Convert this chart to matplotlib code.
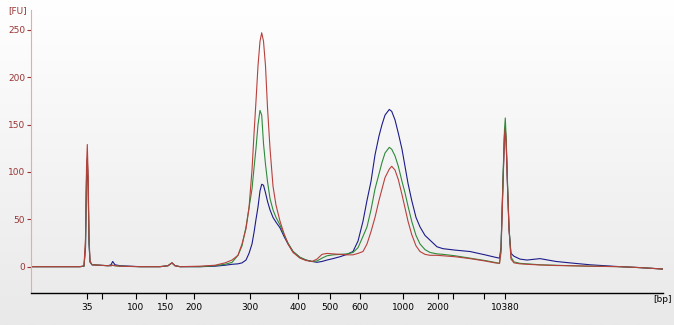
import numpy as np
import matplotlib.pyplot as plt
from matplotlib.colors import LinearSegmentedColormap

# electropherogram traces, x = migration position (plot units), y = fluorescence [FU]
pos = [30, 60, 80, 84, 85.5, 86.5, 87.3, 88.2, 89, 90, 92, 100, 108, 111, 112.7, 115, 120,
       140, 160, 168, 172, 175, 180, 200, 215, 225, 232, 238, 242, 246, 249, 252, 254, 256,
       258, 260, 261.7, 263.5, 265.5, 267.5, 270, 273, 276, 280, 284, 288, 293, 300, 306,
       312, 317, 322, 327, 333, 340, 347, 353, 358, 363, 367, 371, 375, 379, 382, 385,
       389.3, 391.7, 395, 398.3, 402, 405, 408, 411.7, 416, 420, 425, 430, 437, 443, 455,
       470, 485, 495, 499.5, 501, 503, 504.5, 505.3, 506.2, 507.5, 509, 511, 514, 520, 527,
       540, 556, 570, 590, 620, 640, 663]

blue = [0, 0, 0, 0.5, 20, 90, 113, 80, 25, 5, 2, 1.5, 1, 2, 5.5, 2, 1,
        0, 0, 1, 4, 1, 0, 0, 0.5, 1.5, 2.5, 3, 4, 7, 14, 24, 36, 50,
        63, 80, 87, 86, 78, 69, 60, 52, 47, 41, 32, 24, 16, 9.5, 7,
        5.5, 4.6, 5.5, 7, 8.5, 10.5, 13, 16, 27, 48, 70, 90, 118, 138, 150, 160,
        166, 164, 155, 141, 124, 106, 88, 70, 52, 42, 33, 28, 21, 19, 17.5,
        16, 12.5, 10, 9, 20, 90, 140, 145, 130, 85, 40, 14, 11, 8, 7,
        8.5, 5.5, 4, 2, 0, -1, -2.5]

green = [0, 0, 0, 0.5, 22, 95, 115, 85, 28, 5, 2, 1.5, 1, 1, 1.5, 1, 0.5,
         0, 0, 1, 4, 1, 0, 0, 1, 2.5, 4.5, 12, 22, 42, 62, 82, 104, 125,
         150, 165, 160, 130, 108, 90, 72, 60, 52, 44, 34, 25, 16, 10, 7,
         5.5, 6, 9, 11.5, 12.5, 13, 13.5, 15, 20, 32, 42, 60, 82, 98, 110, 120,
         126, 124, 117, 106, 90, 78, 64, 48, 33, 24, 18, 15, 13.5, 13, 11.5,
         9, 6.5, 4.5, 3.5, 18, 95, 145, 157, 135, 90, 42, 10, 5, 3.5, 3,
         2, 1.5, 1, 0.5, 0, -1, -2.5]

red = [0, 0, 0, 1, 30, 105, 129, 95, 32, 6, 2, 1.5, 1, 1, 1.5, 1, 0.5,
       0, 0, 1, 4, 1, 0, 0.5, 1.5, 4, 7, 12, 24, 40, 62, 102, 140, 175,
       212, 238, 247, 238, 212, 168, 125, 85, 65, 48, 35, 24, 15, 9, 6.5,
       5.5, 8, 13, 14, 13.5, 13, 12.5, 12.5, 14, 16, 24, 37, 52, 70, 82, 94,
       103, 106, 102, 92, 76, 62, 48, 34, 22, 16, 13, 12, 12, 11.5, 10.5,
       8.5, 6, 4, 3.5, 15, 85, 138, 146, 130, 85, 40, 8, 4, 3, 2.5,
       1.8, 1.2, 1, 0.5, 0, -1, -2.5]

tick_pos = [87.3, 136, 166, 193.5, 249.5, 298, 330, 360, 403, 438, 505.3]
tick_lab = ['35', '100', '150', '200', '300', '400', '500', '600', '1000', '2000', '10380']
minor_pos = [101.7, 453.3, 484.3]

fig = plt.figure(figsize=(6.74, 3.25), dpi=100)

# panel background gradient
bg = fig.add_axes([0, 0, 1, 1])
grad = np.linspace(0, 1, 256)[:, None]
cmap = LinearSegmentedColormap.from_list('bg', ['#ffffff', '#e9e9e9'])
bg.imshow(grad, cmap=cmap, aspect='auto', extent=[0, 1, 0, 1], origin='upper')
bg.set_xlim(0, 1)
bg.set_ylim(0, 1)
bg.axis('off')

ax = fig.add_axes([30.7 / 674, 32 / 325, (663 - 30.7) / 674, 283 / 325])
ax.patch.set_alpha(0)

ax.plot(pos, blue, color='#1c1c8a', lw=0.8)
ax.plot(pos, green, color='#2f8a3a', lw=0.8)
ax.plot(pos, red, color='#b8403c', lw=0.8)

ax.set_xlim(30.7, 663)
ax.set_ylim(-27.8, 271)

ax.spines['top'].set_visible(False)
ax.spines['right'].set_visible(False)
ax.spines['left'].set_color('#f2a5a5')
ax.spines['bottom'].set_color('black')
ax.spines['bottom'].set_linewidth(1)

ax.set_yticks([0, 50, 100, 150, 200, 250])
ax.tick_params(axis='y', colors='#9a3535', labelsize=6.5, length=3, width=0.8, pad=1)
ax.set_xticks(tick_pos)
ax.set_xticklabels(tick_lab)
ax.set_xticks(minor_pos, minor=True)
ax.tick_params(axis='x', which='both', colors='black', labelsize=6.5, length=4, width=0.8, pad=3)

fig.text(18 / 674, 1 - 11 / 325, '[FU]', color='#9a3535', fontsize=6.5, ha='center', va='center')
fig.text(663 / 674, 1 - 300 / 325, '[bp]', color='black', fontsize=6.5, ha='center', va='center')

fig.savefig('out.png', dpi=100)
